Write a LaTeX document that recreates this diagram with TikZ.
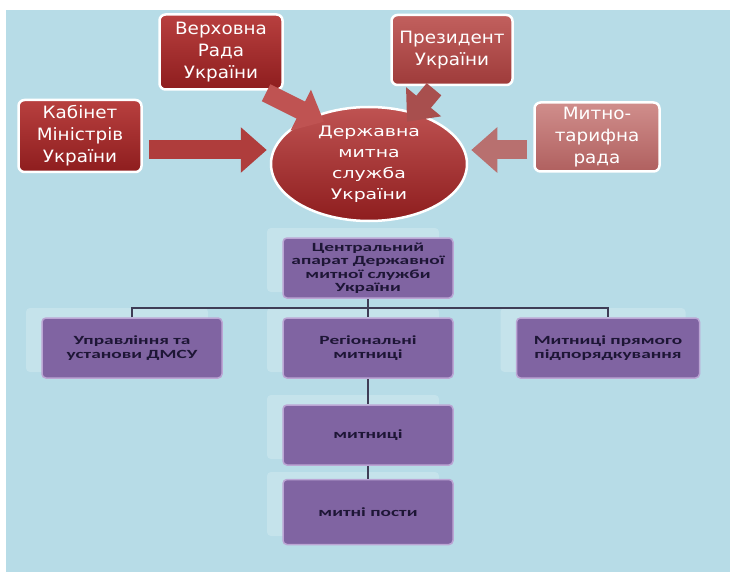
\documentclass[tikz,border=0pt]{standalone}
\usepackage{fontspec}
\usepackage{xcolor}
\usetikzlibrary{shapes.geometric,arrows.meta,calc}
\newfontfamily\redfont[FakeStretch=1.08]{DejaVu Sans}
\newfontfamily\circfont[FakeStretch=1.3]{DejaVu Sans}
\newfontfamily\purplefont[FakeStretch=1.55]{Carlito}

\definecolor{bgblue}{HTML}{B7DCE7}
\definecolor{redtop}{HTML}{B8403F}
\definecolor{redbot}{HTML}{8E1D1E}
\definecolor{midtop}{HTML}{C2605E}
\definecolor{midbot}{HTML}{9E3B3A}
\definecolor{pinktop}{HTML}{D08E8C}
\definecolor{pinkbot}{HTML}{B0605F}
\definecolor{boxpurple}{HTML}{8064A2}
\definecolor{lilac}{HTML}{BBA5D4}
\definecolor{linegray}{HTML}{3F3D56}
\definecolor{textdark}{HTML}{1E1636}

\tikzset{
  redbox/.style={draw=white, line width=2.5pt, rounded corners=6pt, text=white,
    font=\redfont\fontsize{17}{22}\selectfont, align=center, inner sep=2pt,
    minimum width=123pt, minimum height=72pt, top color=redtop, bottom color=redbot},
  purplebox/.style={draw=lilac, line width=1.5pt, rounded corners=4pt, fill=boxpurple,
    text=textdark, font=\purplefont\bfseries\fontsize{12.5}{13.5}\selectfont, align=center,
    inner sep=1pt, minimum width=170pt, minimum height=60pt},
  glass/.style={fill=white, opacity=0.2, rounded corners=4pt},
  bigarrow/.style={line width=19pt, -{Triangle[length=26pt,width=44pt]}},
  orgline/.style={draw=linegray, line width=2.6pt}
}

\begin{document}
\begin{tikzpicture}[x=1pt,y=-1pt]
  \useasboundingbox (0,0) rectangle (730,572);
  \fill[bgblue] (6,10) rectangle (730,572);

  % upper part
  \node[redbox] (kab) at (80,136) {Кабінет\\Міністрів\\України};
  \node[redbox, minimum height=75pt] (verh) at (221,52) {Верховна\\Рада\\України};
  \node[redbox, minimum width=121pt, minimum height=70pt, top color=midtop, bottom color=midbot] (prez) at (452,50) {Президент\\України};
  \node[redbox, minimum width=125pt, minimum height=69pt, top color=pinktop, bottom color=pinkbot] (mtr) at (597,137) {Митно-\\тарифна\\рада};
  \node[ellipse, draw=white, line width=2.5pt, top color=redtop!90!white, bottom color=redbot,
    text=white, font=\circfont\fontsize{14.5}{21}\selectfont, align=center,
    minimum width=196pt, minimum height=114pt, inner sep=0pt] (dms) at (369,164)
    {Державна\\митна\\служба\\України};

  \draw[bigarrow, color=redtop!95!black] ($(kab.east)+(6,14)$) -- ($(dms.west)+(-3,-14)$);
  \draw[bigarrow, color=pinkbot!90!white] ($(mtr.west)+(-6,13)$) -- ($(dms.east)+(3,-14)$);
  \draw[bigarrow, color=redtop!90!white] ($(verh.south)+(45,2)$) -- ($(dms.north)+(-45,16)$);
  \draw[bigarrow, color=midbot!90!white] ($(prez.south)+(-18,3)$) -- ($(dms.north)+(38,16)$);

  % lower part
  \foreach \gx/\gy/\gw in {368/268/170, 132/348/180, 368/348/170, 608/348/183, 368/435/170, 368/512/170}
    \fill[glass] (\gx-\gw/2-16,\gy-40) rectangle (\gx+\gw/2-14,\gy+24);

  \node[purplebox] (central) at (368,268) {Центральний\\апарат Державної\\митної служби\\України};
  \node[purplebox, minimum width=180pt] (upr) at (132,348) {Управління та\\установи ДМСУ};
  \node[purplebox] (reg) at (368,348) {Регіональні\\митниці};
  \node[purplebox, minimum width=183pt] (pryam) at (608,348) {Митниці прямого\\підпорядкування};
  \node[purplebox] (myt) at (368,435) {митниці};
  \node[purplebox, minimum height=65pt] (post) at (368,512) {митні пости};

  \coordinate (bar) at ($(central.south)!0.5!(reg.north)$);
  \draw[orgline] (central.south) -- (reg.north);
  \draw[orgline] (upr.north) |- (bar) -| (pryam.north);
  \draw[orgline] (reg.south) -- (myt.north);
  \draw[orgline] (myt.south) -- (post.north);
\end{tikzpicture}
\end{document}
